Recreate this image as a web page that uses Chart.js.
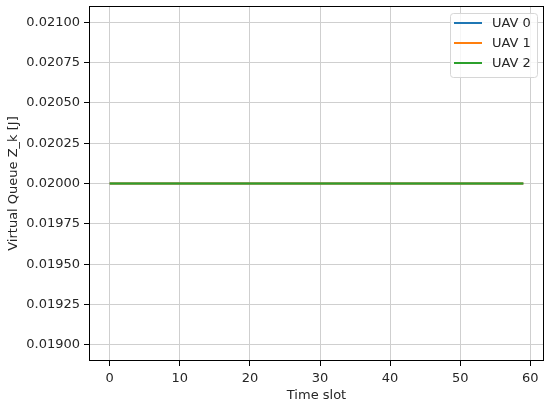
<!DOCTYPE html>
<html lang="en">
  <head>
    <meta charset="UTF-8" />
    <script src="https://cdn.jsdelivr.net/npm/chart.js@4/dist/chart.umd.min.js"></script>
    <title>Virtual Queue</title>
    <style>
      html, body { margin: 0; padding: 0; background: #fff; }
      #wrap { width: 550px; height: 404px; }
    </style>
  </head>
  <body>
    <div id="wrap"><canvas id="chart" width="550" height="404"></canvas></div>
    <script>
      const timeSlots = [
        0, 1, 2, 3, 4, 5, 6, 7, 8, 9, 10, 11, 12, 13, 14, 15, 16, 17, 18, 19,
        20, 21, 22, 23, 24, 25, 26, 27, 28, 29, 30, 31, 32, 33, 34, 35, 36, 37, 38, 39,
        40, 41, 42, 43, 44, 45, 46, 47, 48, 49, 50, 51, 52, 53, 54, 55, 56, 57, 58, 59
      ];
      const uav0 = [
        0.02, 0.02, 0.02, 0.02, 0.02, 0.02, 0.02, 0.02, 0.02, 0.02, 0.02, 0.02, 0.02, 0.02, 0.02, 0.02, 0.02, 0.02, 0.02, 0.02,
        0.02, 0.02, 0.02, 0.02, 0.02, 0.02, 0.02, 0.02, 0.02, 0.02, 0.02, 0.02, 0.02, 0.02, 0.02, 0.02, 0.02, 0.02, 0.02, 0.02,
        0.02, 0.02, 0.02, 0.02, 0.02, 0.02, 0.02, 0.02, 0.02, 0.02, 0.02, 0.02, 0.02, 0.02, 0.02, 0.02, 0.02, 0.02, 0.02, 0.02
      ];
      const uav1 = [
        0.02, 0.02, 0.02, 0.02, 0.02, 0.02, 0.02, 0.02, 0.02, 0.02, 0.02, 0.02, 0.02, 0.02, 0.02, 0.02, 0.02, 0.02, 0.02, 0.02,
        0.02, 0.02, 0.02, 0.02, 0.02, 0.02, 0.02, 0.02, 0.02, 0.02, 0.02, 0.02, 0.02, 0.02, 0.02, 0.02, 0.02, 0.02, 0.02, 0.02,
        0.02, 0.02, 0.02, 0.02, 0.02, 0.02, 0.02, 0.02, 0.02, 0.02, 0.02, 0.02, 0.02, 0.02, 0.02, 0.02, 0.02, 0.02, 0.02, 0.02
      ];
      const uav2 = [
        0.02, 0.02, 0.02, 0.02, 0.02, 0.02, 0.02, 0.02, 0.02, 0.02, 0.02, 0.02, 0.02, 0.02, 0.02, 0.02, 0.02, 0.02, 0.02, 0.02,
        0.02, 0.02, 0.02, 0.02, 0.02, 0.02, 0.02, 0.02, 0.02, 0.02, 0.02, 0.02, 0.02, 0.02, 0.02, 0.02, 0.02, 0.02, 0.02, 0.02,
        0.02, 0.02, 0.02, 0.02, 0.02, 0.02, 0.02, 0.02, 0.02, 0.02, 0.02, 0.02, 0.02, 0.02, 0.02, 0.02, 0.02, 0.02, 0.02, 0.02
      ];
      const seriesLabels = ["UAV 0", "UAV 1", "UAV 2"];
      const xTicks = [0, 10, 20, 30, 40, 50, 60];
      const yTicks = [0.019, 0.01925, 0.0195, 0.01975, 0.02, 0.02025, 0.0205, 0.02075, 0.021];

      const colors = ["#1f77b4", "#ff7f0e", "#2ca02c"];
      const font = { family: "DejaVu Sans", size: 13 };
      const textColor = "#262626";

      function toPoints(ys) {
        return ys.map((y, i) => ({ x: timeSlots[i], y: y }));
      }

      // axes frame + legend box, matplotlib style
      const framePlugin = {
        id: "frame",
        afterDatasetsDraw(chart) {
          const { ctx, chartArea: a } = chart;
          ctx.save();
          ctx.strokeStyle = "#000";
          ctx.lineWidth = 1;
          ctx.strokeRect(Math.round(a.left) + 0.5, Math.round(a.top) + 0.5,
            Math.round(a.right - a.left) - 1, Math.round(a.bottom - a.top) - 1);

          const bx = 450, by = 13, bw = 87, bh = 64;
          ctx.beginPath();
          ctx.roundRect(bx + 0.5, by + 0.5, bw, bh, 3);
          ctx.fillStyle = "rgba(255,255,255,0.8)";
          ctx.fill();
          ctx.strokeStyle = "#d6d6d6";
          ctx.lineWidth = 1;
          ctx.stroke();

          ctx.font = "13px 'DejaVu Sans'";
          ctx.textBaseline = "middle";
          ctx.fillStyle = textColor;
          chart.data.datasets.forEach((ds, i) => {
            const yy = 23 + i * 20;
            ctx.beginPath();
            ctx.strokeStyle = ds.borderColor;
            ctx.lineWidth = 2;
            ctx.moveTo(454, yy);
            ctx.lineTo(482, yy);
            ctx.stroke();
            ctx.fillText(ds.label, 492, yy + 1);
          });
          ctx.restore();
        },
      };

      new Chart(document.getElementById("chart"), {
        type: "line",
        data: {
          datasets: [
            { label: seriesLabels[0], data: toPoints(uav0), borderColor: colors[0], order: 3 },
            { label: seriesLabels[1], data: toPoints(uav1), borderColor: colors[1], order: 2 },
            { label: seriesLabels[2], data: toPoints(uav2), borderColor: colors[2], order: 1 },
          ],
        },
        options: {
          responsive: false,
          animation: false,
          layout: { padding: { top: 6, right: 6, left: 0, bottom: 0 } },
          elements: {
            point: { radius: 0 },
            line: { borderWidth: 2, tension: 0 },
          },
          plugins: { legend: { display: false }, tooltip: { enabled: false } },
          scales: {
            x: {
              type: "linear",
              min: -2.95,
              max: 61.95,
              afterBuildTicks: (s) => { s.ticks = xTicks.map((v) => ({ value: v })); },
              afterFit: (s) => { s.height = 43; s.paddingLeft = 0; s.paddingRight = 0; },
              ticks: { font: font, color: textColor, padding: 5, callback: (v) => String(v) },
              grid: { color: "#cfcfcf", lineWidth: 1, tickColor: "#000", tickLength: 5 },
              border: { display: false },
              title: { display: true, text: "Time slot", font: font, color: textColor, padding: { top: 0, bottom: 1 } },
            },
            y: {
              min: 0.0189,
              max: 0.0211,
              afterBuildTicks: (s) => { s.ticks = yTicks.map((v) => ({ value: v })); },
              afterFit: (s) => { s.width = 89; s.paddingTop = 0; s.paddingBottom = 0; },
              ticks: { font: font, color: textColor, padding: 4, callback: (v) => v.toFixed(5) },
              grid: { color: "#cfcfcf", lineWidth: 1, tickColor: "#000", tickLength: 5 },
              border: { display: false },
              title: { display: true, text: "Virtual Queue Z_k [J]", font: font, color: textColor, padding: { top: 6, bottom: 0 } },
            },
          },
        },
        plugins: [framePlugin],
      });
    </script>
  </body>
</html>
